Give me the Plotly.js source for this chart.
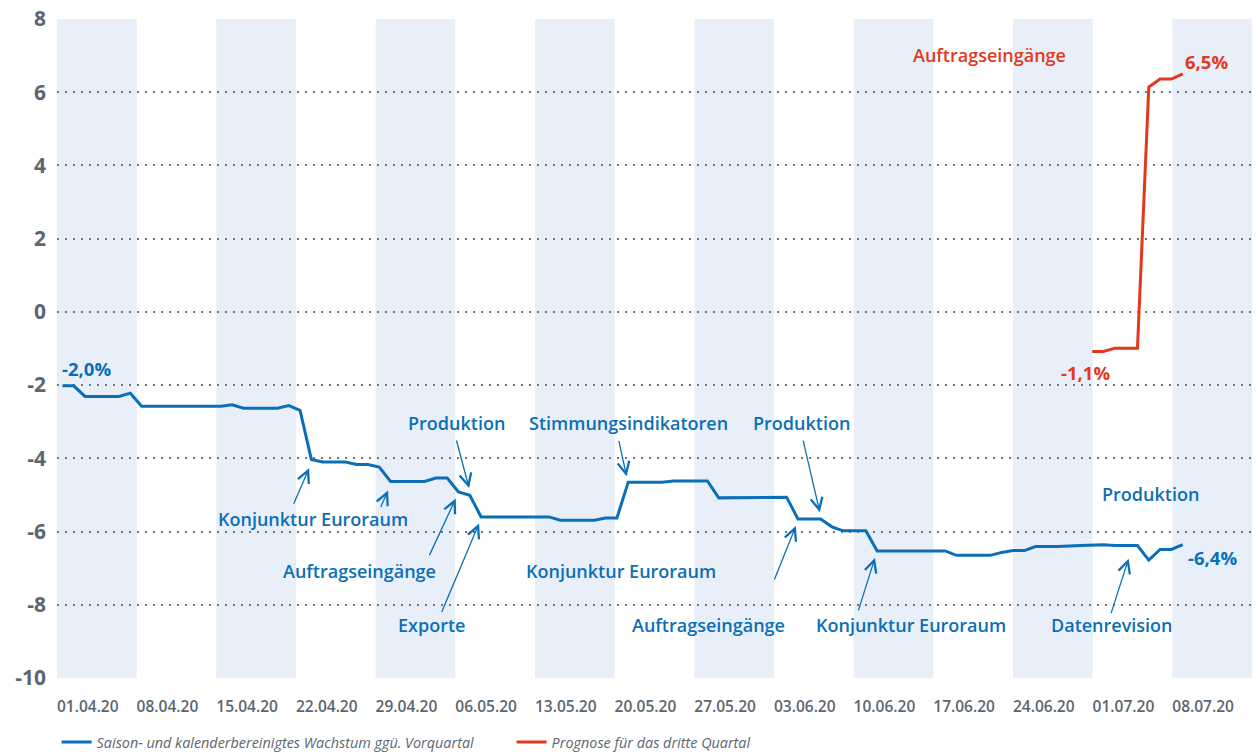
<!DOCTYPE html>
<html><head><meta charset="utf-8">
<script src="https://cdn.plot.ly/plotly-3.0.1.min.js"></script>
<style>html,body{margin:0;padding:0;background:#fff}#chart{width:1258px;height:755px}</style>
</head><body><div id="chart"></div>
<script>
// Blue series: seasonally and calendar adjusted growth vs previous quarter (nowcast Q2)
const seriesDates = ['2020-03-30','2020-03-31','2020-04-01','2020-04-04','2020-04-05','2020-04-06','2020-04-13','2020-04-14','2020-04-15','2020-04-18','2020-04-19','2020-04-20','2020-04-21','2020-04-22','2020-04-24','2020-04-25','2020-04-26','2020-04-27','2020-04-28','2020-05-01','2020-05-02','2020-05-03','2020-05-04','2020-05-05','2020-05-06','2020-05-12','2020-05-13','2020-05-16','2020-05-17','2020-05-18','2020-05-19','2020-05-22','2020-05-23','2020-05-26','2020-05-27','2020-05-30','2020-05-31','2020-06-02','2020-06-03','2020-06-05','2020-06-06','2020-06-07','2020-06-09','2020-06-10','2020-06-16','2020-06-17','2020-06-20','2020-06-21','2020-06-22','2020-06-23','2020-06-24','2020-06-26','2020-06-28','2020-06-29','2020-06-30','2020-07-01','2020-07-03','2020-07-04','2020-07-05','2020-07-06','2020-07-07'];
const seriesValues = [-2.02,-2.02,-2.31,-2.31,-2.22,-2.58,-2.58,-2.54,-2.63,-2.63,-2.56,-2.69,-4.03,-4.10,-4.10,-4.17,-4.17,-4.24,-4.63,-4.63,-4.54,-4.54,-4.92,-5.01,-5.60,-5.60,-5.69,-5.69,-5.63,-5.63,-4.65,-4.65,-4.62,-4.62,-5.08,-5.08,-5.06,-5.06,-5.66,-5.66,-5.87,-5.98,-5.98,-6.53,-6.53,-6.65,-6.65,-6.57,-6.52,-6.52,-6.41,-6.41,-6.38,-6.36,-6.36,-6.38,-6.38,-6.78,-6.49,-6.49,-6.36];
// Red series: forecast for the third quarter
const forecastDates = ['2020-06-29','2020-06-30','2020-07-01','2020-07-03','2020-07-04','2020-07-05','2020-07-06','2020-07-07'];
const forecastValues = [-1.08,-1.08,-0.99,-0.99,6.14,6.36,6.36,6.50];

const seriesName = 'Saison- und kalenderbereinigtes Wachstum ggü. Vorquartal';
const forecastName = 'Prognose für das dritte Quartal';
const yTicks = [-10,-8,-6,-4,-2,0,2,4,6,8];
const startLabel = '-2,0%';
const endLabel = '-6,4%';
const forecastStartLabel = '-1,1%';
const forecastEndLabel = '6,5%';

// event labels: [text, day offset from 29.03.2020, value level]
const eventLabels = [
  ['Konjunktur Euroraum', 23.17, -5.66],
  ['Auftragseingänge', 27.28, -7.07],
  ['Produktion', 35.85, -3.03],
  ['Exporte', 33.64, -8.56],
  ['Stimmungsindikatoren', 51.05, -3.03],
  ['Konjunktur Euroraum', 50.39, -7.07],
  ['Produktion', 66.3, -3.03],
  ['Auftragseingänge', 58.12, -8.56],
  ['Konjunktur Euroraum', 75.98, -8.56],
  ['Datenrevision', 93.78, -8.56],
  ['Produktion', 97.13, -4.97]
];
const forecastEventLabel = ['Auftragseingänge', 82.96, 7.02];
// arrows: [day offset of head, value of head, tail dx px, tail dy px]
const eventArrows = [
  [22.80,-4.27,-16,37],[29.78,-4.88,-8,18],[35.76,-5.10,-27,58],[36.94,-4.81,-13,-49],
  [37.82,-5.78,-38,90],[50.85,-4.49,-8,-37],[67.93,-5.47,-17,-73],[65.81,-5.85,-22,55],
  [72.80,-6.72,-17,54],[95.22,-6.74,-18,56]
];

const BLUE = '#0b6fb8', RED = '#e2381c', GREY = '#5b6670';
const DAY = 86400000;
const base = Date.UTC(2020,2,29);
function at(n){ return new Date(base + n*DAY).toISOString().slice(0,16).replace('T',' '); }

// weekly shaded bands (every other calendar week)
const shapes = [];
for (let k = 0; k < 8; k++) {
  const s = Date.UTC(2020,2,30) + k*14*DAY;
  shapes.push({type:'rect', xref:'x', yref:'paper', x0:new Date(s).toISOString().slice(0,10), x1:new Date(s+7*DAY).toISOString().slice(0,10), y0:0, y1:1, fillcolor:'#e8eff8', line:{width:0}, layer:'below'});
}

const labelFont = {family:'Open Sans, sans-serif', size:18, weight:600};
const pctFont = {family:'Open Sans, sans-serif', size:18.5, weight:700};
const annotations = [];
eventLabels.forEach(l => annotations.push({xref:'x2', yref:'y', x:at(l[1]), y:l[2], text:l[0], showarrow:false, xanchor:'center', yanchor:'middle', font:Object.assign({color:BLUE}, labelFont)}));
annotations.push({xref:'x2', yref:'y', x:at(forecastEventLabel[1]), y:forecastEventLabel[2], text:forecastEventLabel[0], showarrow:false, font:Object.assign({color:RED}, labelFont)});
eventArrows.forEach(a => annotations.push({xref:'x2', yref:'y', x:at(a[0]), y:a[1], ax:a[2], ay:a[3], text:'', showarrow:true, arrowhead:5, arrowsize:1.8, arrowwidth:1.3, arrowcolor:BLUE, standoff:0}));
const n0 = seriesDates.length-1, m0 = forecastDates.length-1;
annotations.push({xref:'x2', yref:'y', x:seriesDates[0], y:seriesValues[0], text:startLabel, showarrow:false, xanchor:'left', yanchor:'middle', yshift:17, xshift:-2, font:Object.assign({color:BLUE}, pctFont)});
annotations.push({xref:'x2', yref:'y', x:seriesDates[n0], y:seriesValues[n0], text:endLabel, showarrow:false, xanchor:'left', yanchor:'middle', yshift:-13, xshift:3, font:Object.assign({color:BLUE}, pctFont)});
annotations.push({xref:'x2', yref:'y', x:forecastDates[0], y:forecastValues[0], text:forecastStartLabel, showarrow:false, xanchor:'center', yanchor:'middle', yshift:-21, xshift:-7, font:Object.assign({color:RED}, pctFont)});
annotations.push({xref:'x2', yref:'y', x:forecastDates[m0], y:forecastValues[m0], text:forecastEndLabel, showarrow:false, xanchor:'left', yanchor:'middle', yshift:12, xshift:0, font:Object.assign({color:RED}, pctFont)});

const traces = [
  {x:seriesDates, y:seriesValues, xaxis:'x2', yaxis:'y', type:'scatter', mode:'lines', name:seriesName, line:{color:BLUE, width:3}, hoverinfo:'skip'},
  {x:forecastDates, y:forecastValues, xaxis:'x2', yaxis:'y', type:'scatter', mode:'lines', name:forecastName, line:{color:RED, width:3}, hoverinfo:'skip'}
];

const layout = {
  width:1258, height:755,
  margin:{l:57, r:6, t:19, b:77, autoexpand:false},
  paper_bgcolor:'#ffffff', plot_bgcolor:'rgba(0,0,0,0)',
  font:{family:'Open Sans, sans-serif', color:GREY},
  showlegend:true,
  legend:{orientation:'h', xref:'container', yref:'container', x:0.045, xanchor:'left', y:0.017, yanchor:'middle', font:{size:14.4, color:GREY, style:'italic'}, entrywidth:410, entrywidthmode:'pixels'},
  xaxis:{type:'date', range:['2020-03-30','2020-07-13'], tick0:'2020-04-01', dtick:7*DAY, tickformat:'%d.%m.%y', showgrid:false, zeroline:false, showline:false, ticks:'', ticklabelshift:8, ticklabelstandoff:17, tickfont:{size:15.5, color:GREY, weight:600}, fixedrange:true, automargin:false},
  xaxis2:{type:'date', overlaying:'x', anchor:'y', range:['2020-03-29 12:33','2020-07-13 02:53'], visible:false, fixedrange:true},
  yaxis:{range:[-10,8], tickvals:yTicks, ticktext:yTicks.map(v=>String(v)), showgrid:true, gridcolor:'#6d7780', griddash:'2px,6px', gridwidth:2, zeroline:false, showline:false, ticks:'', ticklabelstandoff:10, tickfont:{size:21, color:GREY, weight:700}, fixedrange:true, automargin:false},
  shapes:shapes,
  annotations:annotations
};
Plotly.newPlot('chart', traces, layout, {displayModeBar:false, staticPlot:true});
</script>
</body></html>
